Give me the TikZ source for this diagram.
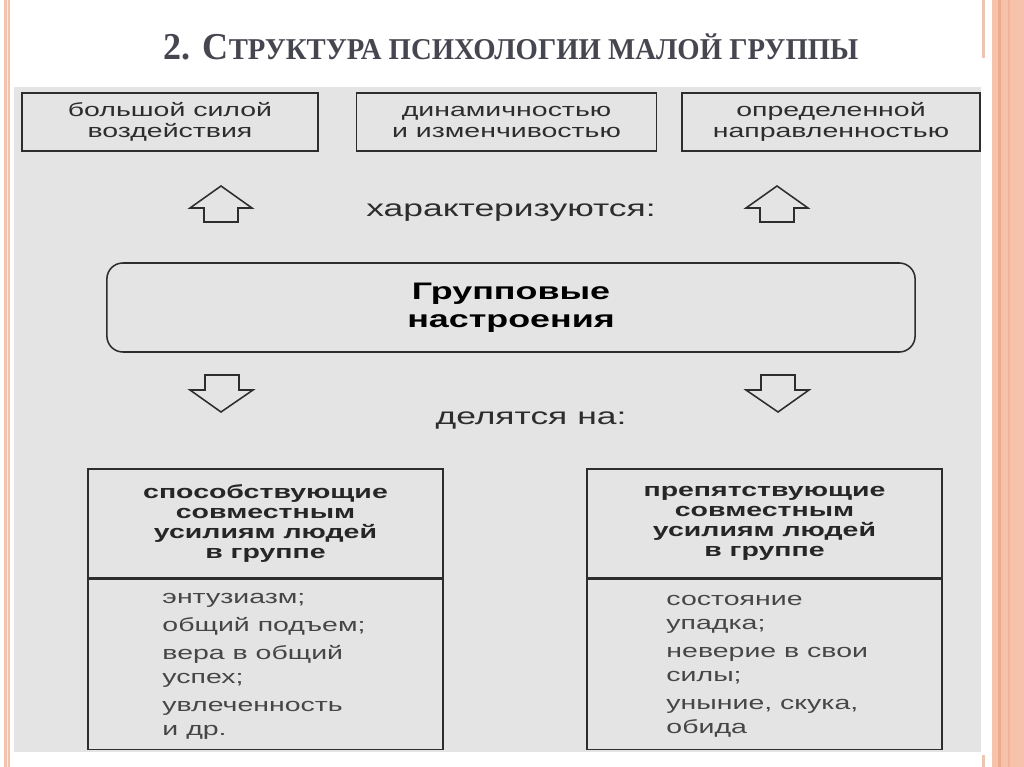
\documentclass[tikz,border=0pt]{standalone}
\usepackage{fontspec}
\setmainfont{Liberation Serif}
\newfontfamily\scanfont[FakeStretch=1.5]{Liberation Sans}
\newfontfamily\titlefont[FakeStretch=0.95]{Liberation Serif}
\usetikzlibrary{positioning}
\definecolor{salmon}{RGB}{246,194,170}
\definecolor{salmondark}{RGB}{238,170,140}
\definecolor{scangray}{RGB}{228,228,228}
\definecolor{titlegray}{RGB}{70,70,80}
\definecolor{ink}{RGB}{45,45,45}
\definecolor{itemgray}{RGB}{70,70,70}

\begin{document}
\begin{tikzpicture}[
  x=0.025cm, y=-0.025cm,
  font=\scanfont\fontsize{13.5}{15}\selectfont,
  frame/.style={draw=ink, line width=1.1pt},
  topbox/.style={frame, rectangle, minimum height=1.45cm, align=center, text=ink},
  moodbox/.style={frame, rounded corners=0.4cm, minimum width=20.2cm, minimum height=2.225cm, align=center,
    font=\scanfont\bfseries\fontsize{17}{20}\selectfont},
  headbox/.style={frame, minimum width=8.875cm, minimum height=2.725cm, align=center,
    font=\scanfont\bfseries\fontsize{13.5}{14.2}\selectfont, text=black!85},
  bodybox/.style={frame, minimum width=8.875cm, minimum height=4.25cm},
  items/.style={align=left, inner sep=0pt, text=itemgray, font=\scanfont\fontsize{13.5}{17}\selectfont},
  caption/.style={text=ink, font=\scanfont\fontsize{16.8}{20}\selectfont},
  blockarr/.style={draw=ink, line width=1.1pt, fill=scangray, line join=miter}
]
\useasboundingbox (0,0) rectangle (1024,767);
\fill[white] (0,0) rectangle (1024,767);

% slide frame stripes
\fill[salmon] (4,0) rectangle (10,767);
\fill[white!60!salmon] (6.5,0) rectangle (7.5,767);
\fill[salmon] (992,0) rectangle (1024,767);
\fill[salmondark] (998,0) rectangle (1001,767);
\fill[salmondark!60!salmon] (1008,0) rectangle (1010,767);
\fill[salmon] (982,0) rectangle (985,58);
\fill[salmon] (982,755) rectangle (985,767);

% scanned page
\fill[scangray] (14,87) rectangle (981,752);

\node[font=\titlefont\bfseries\fontsize{27}{30}\selectfont, text=titlegray] (title) at (511,47)
  {2. С{\fontsize{21.5}{24}\selectfont ТРУКТУРА ПСИХОЛОГИИ МАЛОЙ ГРУППЫ}};

% what the moods are like
\node[topbox, minimum width=7.4cm] (force) at (170,122) {большой силой\\воздействия};
\node[topbox, minimum width=7.5cm] (dyn) at (506.5,122) {динамичностью\\и изменчивостью};
\node[topbox, minimum width=7.45cm] (dir) at (831,122) {определенной\\направленностью};

\node[caption] (charact) at (511,213) {характеризуются:};

\node[moodbox] (mood) at (511,307.5) {Групповые\\настроения};

\node[caption] (divide) at (531,420) {делятся на:};

% up and down block arrows
\draw[blockarr] (221,186) -- (252,208) -- (238,208) -- (238,222) -- (204,222) -- (204,208) -- (190,208) -- cycle;
\draw[blockarr] (777,186) -- (808,208) -- (794,208) -- (794,222) -- (760,222) -- (760,208) -- (746,208) -- cycle;
\draw[blockarr] (205,375) -- (239,375) -- (239,390) -- (253,390) -- (221,412) -- (190,390) -- (205,390) -- cycle;
\draw[blockarr] (761,375) -- (795,375) -- (795,390) -- (809,390) -- (778,412) -- (746,390) -- (761,390) -- cycle;

% the two kinds
\node[headbox] (helphead) at (265.5,523.5) {способствующие\\совместным\\усилиям людей\\в группе};
\node[bodybox, below=0pt of helphead] (helpbody) {};
\node[items, anchor=west] (helpitems) at ([xshift=1.875cm, yshift=-0.05cm]helpbody.west)
  {энтузиазм;\\[3pt]общий подъем;\\[3pt]вера в общий\\успех;\\[3pt]увлеченность\\и др.};

\node[headbox] (hindhead) at (764.5,523.5) {препятствующие\\совместным\\усилиям людей\\в группе};
\node[bodybox, below=0pt of hindhead] (hindbody) {};
\node[items, anchor=west] (hinditems) at ([xshift=2cm, yshift=-0.05cm]hindbody.west)
  {состояние\\упадка;\\[3pt]неверие в свои\\силы;\\[3pt]уныние, скука,\\обида};
\end{tikzpicture}
\end{document}
